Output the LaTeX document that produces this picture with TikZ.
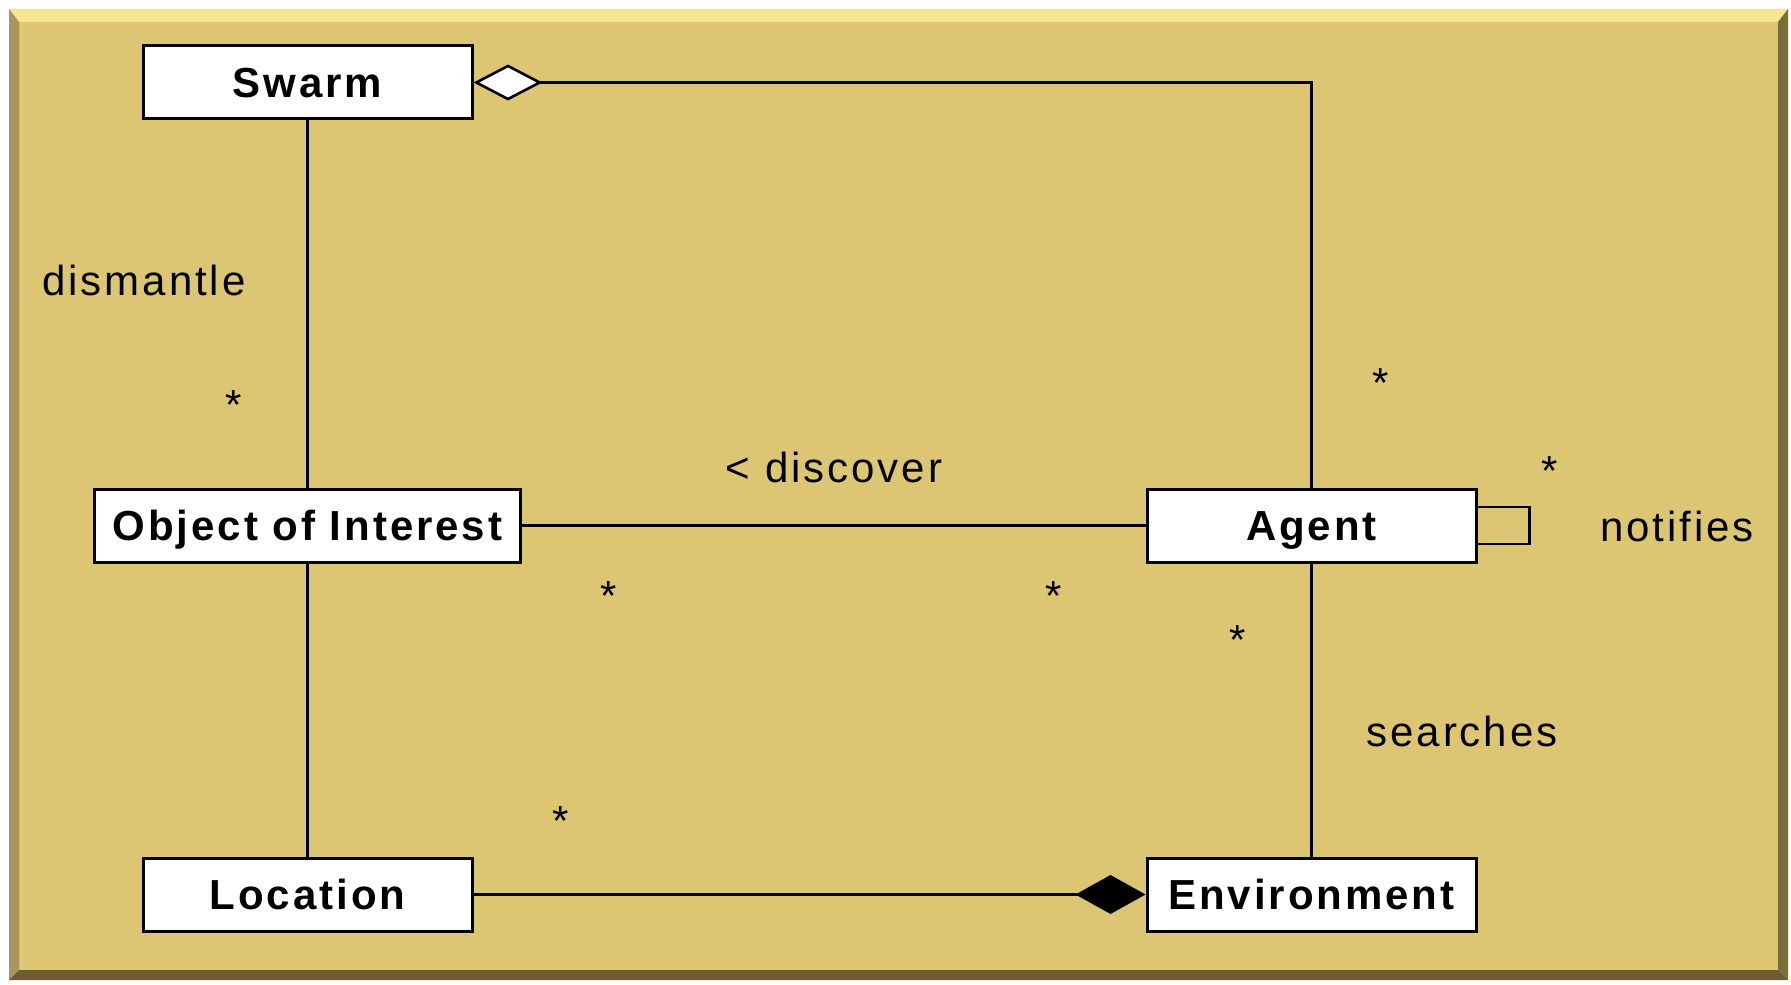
\documentclass[tikz,border=0pt]{standalone}
\usepackage{fontspec}
\setmainfont{Liberation Sans}
\newfontfamily\boxfont[LetterSpace=7]{Liberation Sans}
\newfontfamily\lblfont[LetterSpace=7]{Liberation Sans}
\usetikzlibrary{arrows.meta}
\definecolor{panel}{HTML}{DCC673}
\definecolor{bevlight}{HTML}{F6E690}
\definecolor{bevleft}{HTML}{A8955A}
\definecolor{bevright}{HTML}{7C6C3A}
\definecolor{bevbottom}{HTML}{6C5C30}
\begin{document}
\begin{tikzpicture}[x=0.5pt,y=-0.5pt,
  classbox/.style={draw=black,line width=1.5pt,fill=white,minimum width=164.5pt,minimum height=36.5pt,inner sep=0pt,
    font=\boxfont\bfseries\fontsize{21}{24}\selectfont,text height=15pt,text depth=0pt},
  assoc/.style={draw=black,line width=1.1pt},
  lbl/.style={font=\lblfont\fontsize{21}{24}\selectfont,anchor=base,inner sep=0pt},
  mult/.style={font=\fontsize{21}{24}\selectfont,anchor=base,inner sep=0pt}]
\useasboundingbox (0,0) rectangle (1791,984);
\fill[white] (0,0) rectangle (1791,984);
% frame with bevel
\fill[panel] (9,9) rectangle (1788,980);
\fill[bevlight] (9,9) -- (1788,9) -- (1778,22) -- (19,22) -- cycle;
\fill[bevleft] (9,9) -- (19,22) -- (19,970) -- (9,980) -- cycle;
\fill[bevright] (1788,9) -- (1778,22) -- (1778,970) -- (1788,980) -- cycle;
\fill[bevbottom] (9,980) -- (19,970) -- (1778,970) -- (1788,980) -- cycle;
% classes
\node[classbox] (swarm) at (307.5,82.5) {Swarm};
\node[classbox,minimum width=213pt] (ooi) at (307.5,525.5) {Object of Interest};
\node[classbox] (agent) at (1311.5,525.5) {Agent};
\node[classbox] (loc) at (307.5,894.5) {Location};
\node[classbox] (env) at (1311.5,894.5) {Environment};
% connectors
\draw[assoc] (swarm.south) -- (ooi.north);
\draw[assoc] (ooi.south) -- (loc.north);
\draw[assoc] (ooi.east) -- (agent.west);
\draw[assoc] (agent.south) -- (env.north);
\draw[assoc,{Diamond[open,fill=white,line width=1.3pt,length=34.5pt,width=18pt]}-] (swarm.east) -| (agent.north);
\draw[assoc,-{Diamond[fill=black,length=35pt,width=19.5pt]}] (loc.east) -- (env.west);
\draw[assoc] ([yshift=9.25pt]agent.east) -- ++(26pt,0) -- ++(0,-18.5pt) -- ([yshift=-9.25pt]agent.east);
% labels
\node[lbl] (l1) at (144,295) {dismantle};
\node[lbl] (l2) at (834,482) {< discover};
\node[lbl] (l3) at (1677,541) {notifies};
\node[lbl] (l4) at (1462,746) {searches};
% multiplicities
\node[mult] (m1) at (234,419) {*};
\node[mult] (m2) at (609,610) {*};
\node[mult] (m3) at (1054,610) {*};
\node[mult] (m4) at (1381,397) {*};
\node[mult] (m5) at (1550,485) {*};
\node[mult] (m6) at (1238,654) {*};
\node[mult] (m7) at (561,835) {*};
\end{tikzpicture}
\end{document}
